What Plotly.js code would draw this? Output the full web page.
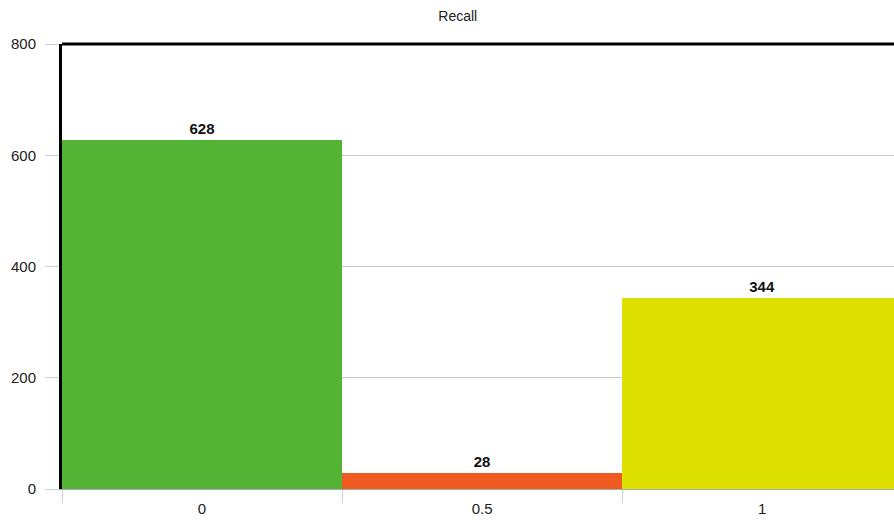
<!DOCTYPE html>
<html>
<head>
<meta charset="utf-8">
<script src="https://cdn.plot.ly/plotly-3.0.1.min.js"></script>
<style>html,body{margin:0;padding:0;background:#fff;}#chart{width:894px;height:521px;}</style>
</head>
<body>
<div id="chart"></div>
<script>
const categories = ["0", "0.5", "1"];
const counts = [628, 28, 344];
const barColors = ["#52b335", "#ef5a1e", "#dee000"];
const yTicks = [0, 200, 400, 600, 800];

const trace = {
  type: "bar",
  x: categories,
  y: counts,
  marker: {color: barColors, line: {width: 0}},
  text: counts.map(String),
  textposition: "outside",
  textfont: {family: "Liberation Sans, Arial, sans-serif", size: 15, color: "#111", weight: "bold"},
  cliponaxis: false,
  hoverinfo: "none"
};

const layout = {
  width: 894,
  height: 521,
  margin: {l: 62, r: 0, t: 44, b: 32},
  paper_bgcolor: "#fff",
  plot_bgcolor: "#fff",
  bargap: 0,
  showlegend: false,
  title: {
    text: "Recall",
    x: 0.512, xanchor: "center",
    y: 1 - 16/521, yanchor: "middle",
    font: {family: "Liberation Sans, Arial, sans-serif", size: 14, color: "#222"}
  },
  xaxis: {
    type: "category",
    range: [-0.5, 2.471],
    tickson: "boundaries",
    ticks: "outside",
    ticklen: 13,
    tickcolor: "#c5d3e3",
    tickwidth: 1,
    ticklabelstandoff: 6,
    showgrid: false,
    showline: true,
    linecolor: "#a8acb0",
    linewidth: 1,
    tickfont: {family: "Liberation Sans, Arial, sans-serif", size: 15, color: "#222"},
    fixedrange: true
  },
  yaxis: {
    range: [0, 800],
    tickvals: yTicks,
    ticktext: yTicks.map(String),
    ticks: "outside",
    ticklen: 14,
    tickcolor: "#c5d3e3",
    tickwidth: 1,
    ticklabelstandoff: 6,
    showgrid: true,
    gridcolor: "#c8c8c8",
    gridwidth: 1,
    zeroline: false,
    showline: true,
    linecolor: "#000",
    linewidth: 3,
    tickfont: {family: "Liberation Sans, Arial, sans-serif", size: 15, color: "#222"},
    fixedrange: true
  },
  shapes: [{
    type: "line", xref: "paper", yref: "paper",
    x0: 0, x1: 1, y0: 1, y1: 1,
    line: {color: "#000", width: 3}
  }]
};

Plotly.newPlot("chart", [trace], layout, {displayModeBar: false, staticPlot: true});
</script>
</body>
</html>
